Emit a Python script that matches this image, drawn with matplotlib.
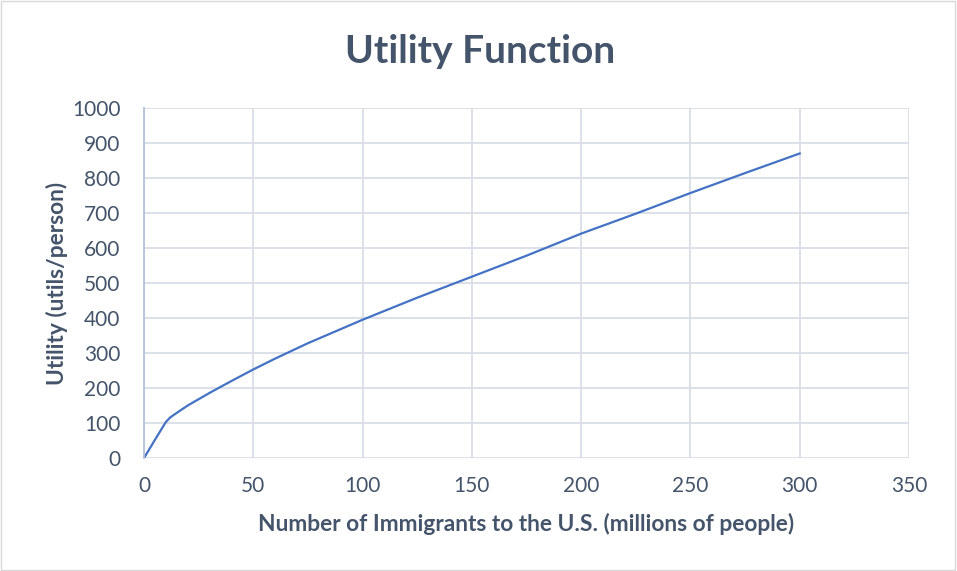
import matplotlib
matplotlib.use("Agg")
import matplotlib.pyplot as plt
from matplotlib.patches import Rectangle

# Number of immigrants (millions) and the resulting utility per person
immigrants = [0, 5, 10, 12, 15, 20, 25, 30, 40, 50, 60, 75, 100, 125, 150,
              175, 200, 225, 250, 275, 300]
utility = [0, 52, 103, 116, 129, 150, 168, 186, 220, 253, 284, 328, 395, 458,
           518, 578, 641, 698, 757, 814, 870]

x_ticks = [0, 50, 100, 150, 200, 250, 300, 350]
y_ticks = [0, 100, 200, 300, 400, 500, 600, 700, 800, 900, 1000]

TEXT = "#44546A"
GRID = "#D9DEE7"
LINE = "#4472C4"

plt.rcParams["font.family"] = ["Lato", "DejaVu Sans"]

fig = plt.figure(figsize=(9.57, 5.71), dpi=100)
ax = fig.add_axes([0.1505, 0.1979, 0.7993, 0.6130])

ax.plot(immigrants, utility, color=LINE, linewidth=1.6, solid_joinstyle="round")

ax.set_xlim(0, 350)
ax.set_ylim(0, 1000)
ax.set_xticks(x_ticks)
ax.set_yticks(y_ticks)
ax.tick_params(axis="both", length=0, labelsize=15, colors=TEXT)
ax.tick_params(axis="y", pad=17)
ax.tick_params(axis="x", pad=13)

ax.grid(True, color=GRID, linewidth=1.3)
ax.set_axisbelow(True)
for side in ("top", "right", "bottom"):
    ax.spines[side].set_visible(False)
ax.spines["left"].set_color("#B4C2DA")
ax.spines["left"].set_linewidth(1.3)

ax.set_xlabel("Number of Immigrants to the U.S. (millions of people)",
              fontsize=16.4, fontweight="bold", color=TEXT, labelpad=12)
ax.set_ylabel("Utility (utils/person)", fontsize=16.4, fontweight="bold",
              color=TEXT, labelpad=3)

fig.text(0.502, 0.910, "Utility Function", ha="center", va="center",
         fontsize=28, fontweight="bold", color=TEXT)

# thin frame around the whole chart area
fig.patches.append(Rectangle((0.001, 0.002), 0.997, 0.996,
                             transform=fig.transFigure, fill=False,
                             edgecolor="#D9D9D9", linewidth=1.0))

fig.savefig("out.png", dpi=100)
